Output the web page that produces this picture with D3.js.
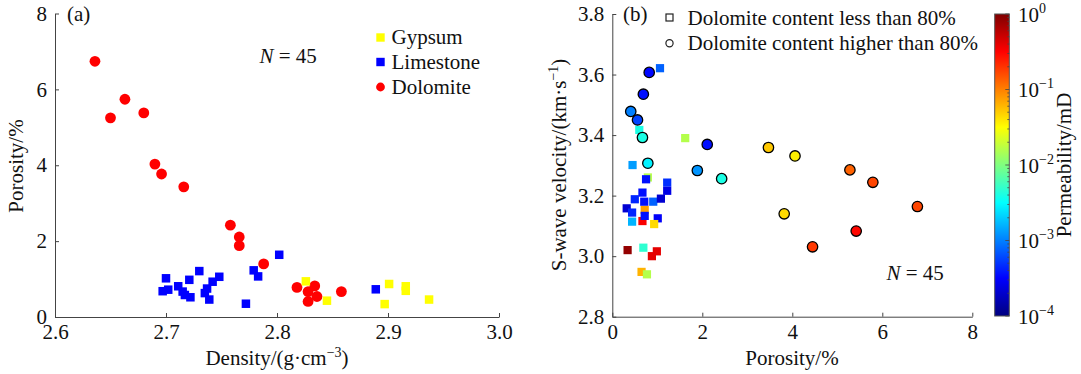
<!DOCTYPE html>
<html>
<head>
<meta charset="utf-8">
<script src="https://cdn.jsdelivr.net/npm/d3@7"></script>
<style>
  html, body { margin: 0; padding: 0; background: #fff; }
  svg text { font-family: "Liberation Serif", "Times New Roman", serif !important; fill: #111; }
  .axis path, .axis line { stroke: #444; stroke-width: 1; }
</style>
</head>
<body>
<svg id="chart" width="1081" height="374"></svg>
<script>
// ---------- Panel (a): density vs porosity by lithology ----------
const gypsumDensity    = [2.826, 2.845, 2.901, 2.897, 2.916, 2.916, 2.937];
const gypsumPorosity   = [0.94, 0.43, 0.87, 0.34, 0.81, 0.69, 0.46];

const limestoneDensity  = [2.700, 2.697, 2.702, 2.711, 2.715, 2.717, 2.722, 2.721, 2.730, 2.735,
                           2.737, 2.739, 2.742, 2.748, 2.772, 2.779, 2.783, 2.802, 2.889];
const limestonePorosity = [1.02, 0.68, 0.72, 0.81, 0.67, 0.58, 0.52, 0.98, 1.21, 0.63,
                           0.75, 0.46, 0.93, 1.06, 0.35, 1.23, 1.07, 1.64, 0.73];

const dolomiteDensity  = [2.636, 2.650, 2.663, 2.680, 2.690, 2.696, 2.716, 2.758, 2.766, 2.766,
                          2.788, 2.818, 2.828, 2.834, 2.836, 2.828, 2.858];
const dolomitePorosity = [6.74, 5.25, 5.74, 5.38, 4.03, 3.77, 3.43, 2.42, 2.11, 1.88,
                          1.40, 0.78, 0.67, 0.82, 0.54, 0.41, 0.67];

const lithologyNames = ["Gypsum", "Limestone", "Dolomite"];

// ---------- Panel (b): porosity vs S-wave velocity, coloured by permeability ----------
// samples with dolomite content < 80% (squares)
const lowDolPorosity = [1.06, 0.60, 1.62, 0.45, 0.79, 0.75, 1.22, 1.22, 0.67, 0.50,
                        0.72, 0.71, 0.91, 1.08, 0.32, 0.44, 0.67, 0.72, 1.01, 0.44,
                        0.93, 0.34, 0.69, 0.99, 0.88, 0.65, 0.77];
const lowDolVs       = [3.621, 3.417, 3.390, 3.301, 3.260, 3.254, 3.243, 3.216, 3.210, 3.188,
                        3.153, 3.180, 3.180, 3.190, 3.158, 3.144, 3.116, 3.133, 3.125, 3.114,
                        3.106, 3.020, 3.028, 3.016, 3.000, 2.948, 2.940];
const lowDolPerm     = [7.6e-4, 4.0e-3, 1.6e-2, 1.3e-3, 1.6e-2, 3.6e-4, 4.8e-4, 2.5e-4, 3.6e-4, 4.4e-4,
                        7.6e-2, 3.6e-4, 7.6e-4, 2.1e-4, 2.1e-4, 4.4e-4, 3.3e-1, 3.6e-4, 3.0e-4, 1.6e-3,
                        4.4e-2, 8.3e-1, 4.8e-3, 4.0e-1, 4.0e-1, 6.3e-2, 1.6e-2];

// samples with dolomite content > 80% (circles)
const highDolPorosity = [0.82, 0.69, 0.41, 0.56, 0.67, 0.79, 2.11, 1.89, 2.43, 3.47,
                         4.06, 3.82, 4.45, 5.28, 5.79, 6.78, 5.42];
const highDolVs       = [3.607, 3.535, 3.478, 3.450, 3.392, 3.307, 3.369, 3.283, 3.256, 3.359,
                         3.331, 3.140, 3.031, 3.285, 3.244, 3.164, 3.083];
const highDolPerm     = [3.3e-4, 3.6e-4, 1.0e-3, 5.8e-4, 4.0e-3, 2.8e-3, 3.6e-4, 1.2e-3, 4.0e-3, 5.2e-2,
                         3.6e-2, 4.4e-2, 1.9e-1, 1.3e-1, 1.7e-1, 1.7e-1, 3.0e-1];

const densityTicks   = [2.6, 2.7, 2.8, 2.9, 3.0];
const porosityTicksA = [0, 2, 4, 6, 8];
const porosityTicksB = [0, 2, 4, 6, 8];
const velocityTicks  = [2.8, 3.0, 3.2, 3.4, 3.6, 3.8];
const permTicks      = [1e-4, 1e-3, 1e-2, 1e-1, 1];

const SERIF = "Liberation Serif";

// MATLAB-style jet colormap
function jet(t) {
  const c = v => Math.max(0, Math.min(1, v));
  const r = c(1.5 - Math.abs(4 * t - 3));
  const g = c(1.5 - Math.abs(4 * t - 2));
  const b = c(1.5 - Math.abs(4 * t - 1));
  return d3.rgb(r * 255, g * 255, b * 255).toString();
}

const svg = d3.select("#chart");

// ---------- helpers ----------
function drawAxes(g, x, y, xTicks, yTicks, xFmt, yFmt) {
  const ax = g.append("g").attr("class", "axis")
    .attr("transform", `translate(0,${y.range()[0]})`)
    .call(d3.axisBottom(x).tickValues(xTicks).tickFormat(xFmt)
      .tickSizeInner(-4).tickSizeOuter(0).tickPadding(7.5));
  const ay = g.append("g").attr("class", "axis")
    .attr("transform", `translate(${x.range()[0]},0)`)
    .call(d3.axisLeft(y).tickValues(yTicks).tickFormat(yFmt)
      .tickSizeInner(-4).tickSizeOuter(0).tickPadding(8));
  [ax, ay].forEach(a => a.attr("font-family", SERIF).attr("font-size", 21));
}

function nLabel(g, x, y) {
  const t = g.append("text").attr("x", x).attr("y", y).attr("font-size", 21);
  t.append("tspan").attr("font-style", "italic").text("N");
  t.append("tspan").text(" = 45");
}

// ---------- panel (a) ----------
const ga = svg.append("g");
const xa = d3.scaleLinear().domain([2.6, 3.0]).range([55, 499]);
const ya = d3.scaleLinear().domain([0, 8]).range([317, 13.5]);
drawAxes(ga, xa, ya, densityTicks, porosityTicksA, d3.format(".1f"), d3.format("d"));

const sqA = 8.5, rA = 5.4;
const dolA = dolomiteDensity.map((d, i) => [d, dolomitePorosity[i]]);
const limA = limestoneDensity.map((d, i) => [d, limestonePorosity[i]]);
const gypA = gypsumDensity.map((d, i) => [d, gypsumPorosity[i]]);

ga.append("g").selectAll("circle").data(dolA).join("circle")
  .attr("cx", d => xa(d[0])).attr("cy", d => ya(d[1])).attr("r", rA).attr("fill", "#ff0000");
ga.append("g").selectAll("rect").data(limA).join("rect")
  .attr("x", d => xa(d[0]) - sqA / 2).attr("y", d => ya(d[1]) - sqA / 2)
  .attr("width", sqA).attr("height", sqA).attr("fill", "#0000ff");
ga.append("g").selectAll("rect").data(gypA).join("rect")
  .attr("x", d => xa(d[0]) - sqA / 2).attr("y", d => ya(d[1]) - sqA / 2)
  .attr("width", sqA).attr("height", sqA).attr("fill", "#ffff00");

// legend (a)
const legA = ga.append("g").attr("transform", "translate(380.5,0)");
const legColors = ["#ffff00", "#0000ff", "#ff0000"];
const legY = [37.5, 62, 87];
lithologyNames.forEach((name, i) => {
  if (i < 2) {
    legA.append("rect").attr("x", -4.2).attr("y", legY[i] - 4.2).attr("width", 8.4).attr("height", 8.4)
      .attr("fill", legColors[i]);
  } else {
    legA.append("circle").attr("cx", 0).attr("cy", legY[i]).attr("r", 4.4).attr("fill", legColors[i]);
  }
  legA.append("text").attr("x", 11).attr("y", legY[i]).attr("dy", "0.33em")
    .attr("font-size", 21).text(name);
});

ga.append("text").attr("x", 67).attr("y", 21).attr("font-size", 21).text("(a)");
nLabel(ga, 259.5, 63);

// axis titles (a)
const xtA = ga.append("text").attr("x", 277).attr("y", 365).attr("text-anchor", "middle").attr("font-size", 21);
xtA.append("tspan").text("Density/(g·cm");
xtA.append("tspan").attr("font-size", 14).attr("dy", -8).text("−3");
xtA.append("tspan").attr("dy", 8).text(")");

ga.append("text").attr("transform", "translate(23,166) rotate(-90)")
  .attr("text-anchor", "middle").attr("font-size", 21).text("Porosity/%");

// ---------- panel (b) ----------
const gb = svg.append("g");
const xb = d3.scaleLinear().domain([0, 8]).range([612.3, 972.3]);
const yb = d3.scaleLinear().domain([2.8, 3.8]).range([316.7, 14]);
drawAxes(gb, xb, yb, porosityTicksB, velocityTicks, d3.format("d"), d3.format(".1f"));

const permScale = d3.scaleLog().domain([1e-4, 1]).range([0, 1]).clamp(true);
const permColor = p => jet(permScale(p));

const sqB = 8.2, rB = 5.2;
const lowB = lowDolPorosity.map((p, i) => ({ p, v: lowDolVs[i], k: lowDolPerm[i] }));
const highB = highDolPorosity.map((p, i) => ({ p, v: highDolVs[i], k: highDolPerm[i] }));

gb.append("g").selectAll("rect").data(lowB).join("rect")
  .attr("x", d => xb(d.p) - sqB / 2).attr("y", d => yb(d.v) - sqB / 2)
  .attr("width", sqB).attr("height", sqB).attr("fill", d => permColor(d.k));
gb.append("g").selectAll("circle").data(highB).join("circle")
  .attr("cx", d => xb(d.p)).attr("cy", d => yb(d.v)).attr("r", rB)
  .attr("fill", d => permColor(d.k)).attr("stroke", "#000").attr("stroke-width", 1.3);

// legend (b)
const legB = gb.append("g");
legB.append("rect").attr("x", 666).attr("y", 14).attr("width", 7).attr("height", 7)
  .attr("fill", "none").attr("stroke", "#222").attr("stroke-width", 1.2);
legB.append("text").attr("x", 687.5).attr("y", 25).attr("font-size", 21).text("Dolomite content less than 80%");
legB.append("circle").attr("cx", 669.5).attr("cy", 43.3).attr("r", 3.6)
  .attr("fill", "none").attr("stroke", "#222").attr("stroke-width", 1.2);
legB.append("text").attr("x", 687.5).attr("y", 50).attr("font-size", 21).text("Dolomite content higher than 80%");

gb.append("text").attr("x", 623).attr("y", 21).attr("font-size", 21).text("(b)");
nLabel(gb, 886.5, 280);

gb.append("text").attr("x", 792).attr("y", 365).attr("text-anchor", "middle")
  .attr("font-size", 21).text("Porosity/%");

const ytB = gb.append("text").attr("transform", "translate(565.5,165) rotate(-90)")
  .attr("text-anchor", "middle").attr("font-size", 21);
ytB.append("tspan").text("S-wave velocity/(km·s");
ytB.append("tspan").attr("font-size", 14).attr("dy", -8).text("−1");
ytB.append("tspan").attr("dy", 8).text(")");

// ---------- colour bar ----------
const cbX = 994.7, cbW = 14.6, cbTop = 14, cbBot = 316;
const cbScale = d3.scaleLog().domain([1e-4, 1]).range([cbBot, cbTop]);
const defs = svg.append("defs");
const grad = defs.append("linearGradient").attr("id", "jetGrad")
  .attr("x1", 0).attr("y1", 1).attr("x2", 0).attr("y2", 0);
d3.range(0, 1.0001, 1 / 64).forEach(t => {
  grad.append("stop").attr("offset", t).attr("stop-color", jet(t));
});
const cb = svg.append("g");
cb.append("rect").attr("x", cbX).attr("y", cbTop).attr("width", cbW).attr("height", cbBot - cbTop)
  .attr("fill", "url(#jetGrad)").attr("stroke", "#555").attr("stroke-width", 1);

// minor log ticks on the inner right edge
const minor = [];
for (let e = -4; e < 0; e++) for (let m = 2; m <= 9; m++) minor.push(m * Math.pow(10, e));
cb.append("g").selectAll("line").data(minor).join("line")
  .attr("x1", cbX + cbW - 2).attr("x2", cbX + cbW)
  .attr("y1", d => cbScale(d)).attr("y2", d => cbScale(d))
  .attr("stroke", "#444").attr("stroke-width", 0.8);
cb.append("g").selectAll("line").data(permTicks).join("line")
  .attr("x1", cbX + cbW - 4).attr("x2", cbX + cbW)
  .attr("y1", d => cbScale(d)).attr("y2", d => cbScale(d))
  .attr("stroke", "#444").attr("stroke-width", 0.8);

permTicks.forEach(p => {
  const e = Math.round(Math.log10(p));
  const t = cb.append("text").attr("x", 1018).attr("y", cbScale(p) + 7.5).attr("font-size", 21);
  t.append("tspan").text("10");
  t.append("tspan").attr("font-size", 14).attr("dy", -9).text(e === 0 ? "0" : "−" + Math.abs(e));
});

cb.append("text").attr("transform", "translate(1071,165) rotate(-90)")
  .attr("text-anchor", "middle").attr("font-size", 21).text("Permeability/mD");

// every label in the figure uses the serif face
svg.selectAll("text").attr("font-family", SERIF);
</script>
</body>
</html>
